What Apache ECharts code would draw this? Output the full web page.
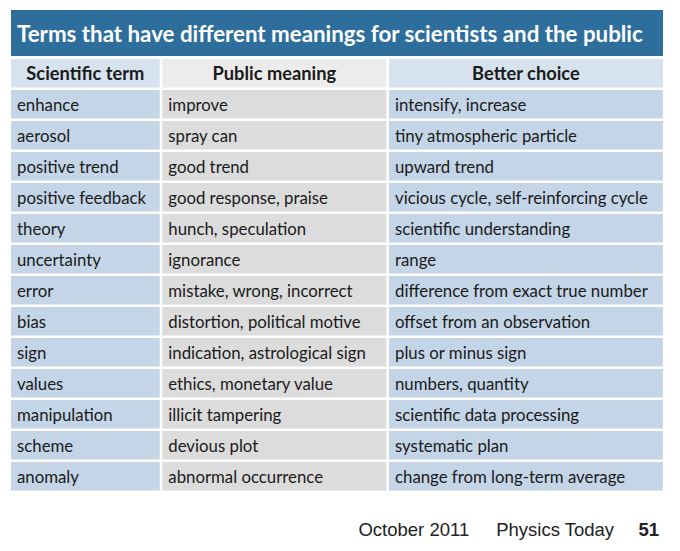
<!DOCTYPE html>
<html>
<head>
<meta charset="utf-8">
<script src="https://cdn.jsdelivr.net/npm/echarts@6/dist/echarts.min.js"></script>
<style>
  html, body { margin: 0; padding: 0; background: #fff; }
  #chart { width: 680px; height: 551px; }
</style>
</head>
<body>
<div id="chart"></div>
<script>
var titleText = 'Terms that have different meanings for scientists and the public';
var headers = ['Scientific term', 'Public meaning', 'Better choice'];
var terms = ['enhance', 'aerosol', 'positive trend', 'positive feedback', 'theory', 'uncertainty',
  'error', 'bias', 'sign', 'values', 'manipulation', 'scheme', 'anomaly'];
var publicMeanings = ['improve', 'spray can', 'good trend', 'good response, praise', 'hunch, speculation',
  'ignorance', 'mistake, wrong, incorrect', 'distortion, political motive', 'indication, astrological sign',
  'ethics, monetary value', 'illicit tampering', 'devious plot', 'abnormal occurrence'];
var betterChoices = ['intensify, increase', 'tiny atmospheric particle', 'upward trend',
  'vicious cycle, self-reinforcing cycle', 'scientific understanding', 'range',
  'difference from exact true number', 'offset from an observation', 'plus or minus sign',
  'numbers, quantity', 'scientific data processing', 'systematic plan', 'change from long-term average'];
var footerParts = ['October 2011', 'Physics Today', '51'];

(function () {
  var columns = [terms, publicMeanings, betterChoices];
  var rowLabels = ['header'].concat(terms);

  // layout only
  var colLefts = [11, 162.3, 389];
  var colWidths = [151.3, 226.7, 276.5];
  var GAP = 2.6;
  var font = 'Lato, "Open Sans", sans-serif';
  var headFill = ['#d6e3ef', '#ececec', '#d6e3ef'];
  var bodyFill = ['#c3d5e7', '#dcdcdc', '#c3d5e7'];
  var footFont = '"Liberation Sans", Arial, sans-serif';

  var grids = [], xAxes = [], yAxes = [], series = [];
  columns.forEach(function (col, ci) {
    grids.push({ left: colLefts[ci], width: colWidths[ci], top: 59, height: 434 });
    xAxes.push({ type: 'category', gridIndex: ci, data: [headers[ci]], show: false });
    yAxes.push({ type: 'category', gridIndex: ci, data: rowLabels, inverse: true, show: false });
    var data = [[0, 0]].concat(col.map(function (v, i) { return [0, i + 1]; }));
    series.push({
      type: 'custom',
      xAxisIndex: ci,
      yAxisIndex: ci,
      data: data,
      silent: true,
      renderItem: function (params, api) {
        var row = api.value(1);
        var c = api.coord([api.value(0), row]);
        var s = api.size([1, 1]);
        var x = c[0] - s[0] / 2, y = c[1] - s[1] / 2;
        var w = s[0] - GAP, h = s[1] - GAP;
        var isHead = row === 0;
        var label = isHead ? headers[ci] : col[row - 1];
        return {
          type: 'group',
          children: [
            { type: 'rect', shape: { x: x, y: y, width: w, height: h },
              style: { fill: isHead ? headFill[ci] : bodyFill[ci] } },
            { type: 'text', x: isHead ? x + w / 2 : x + 6, y: y + h / 2,
              style: { text: label, fill: '#1a1a1a',
                font: isHead ? 'bold 18.3px ' + font : '16.8px ' + font,
                align: isHead ? 'center' : 'left', verticalAlign: 'middle',
                textAlign: isHead ? 'center' : 'left', textVerticalAlign: 'middle' } }
          ]
        };
      }
    });
  });

  var chart = echarts.init(document.getElementById('chart'), null, { renderer: 'svg' });
  chart.setOption({
    animation: false,
    backgroundColor: '#ffffff',
    title: [{
      text: '{a|' + footerParts[0] + '}{b|' + footerParts[1] + '}{c|' + footerParts[2] + '}',
      right: 16, top: 515,
      textStyle: {
        fontWeight: 'normal',
        rich: {
          a: { fontFamily: footFont, fontSize: 18.5, fontWeight: 'normal', color: '#222' },
          b: { fontFamily: footFont, fontSize: 18.5, fontWeight: 'normal', color: '#222', padding: [0, 0, 0, 27] },
          c: { fontFamily: footFont, fontSize: 18.5, fontWeight: 'bold', color: '#222', padding: [0, 0, 0, 24] }
        }
      }
    }],
    graphic: [
      { type: 'rect', shape: { x: 11, y: 10, width: 652, height: 46 }, style: { fill: '#2d6e9c' } },
      { type: 'text', x: 17, y: 33, style: { text: titleText, fill: '#ffffff', font: 'bold 22.3px ' + font,
        verticalAlign: 'middle', textVerticalAlign: 'middle' } }
    ],
    grid: grids,
    xAxis: xAxes,
    yAxis: yAxes,
    series: series
  });
})();
</script>
</body>
</html>
